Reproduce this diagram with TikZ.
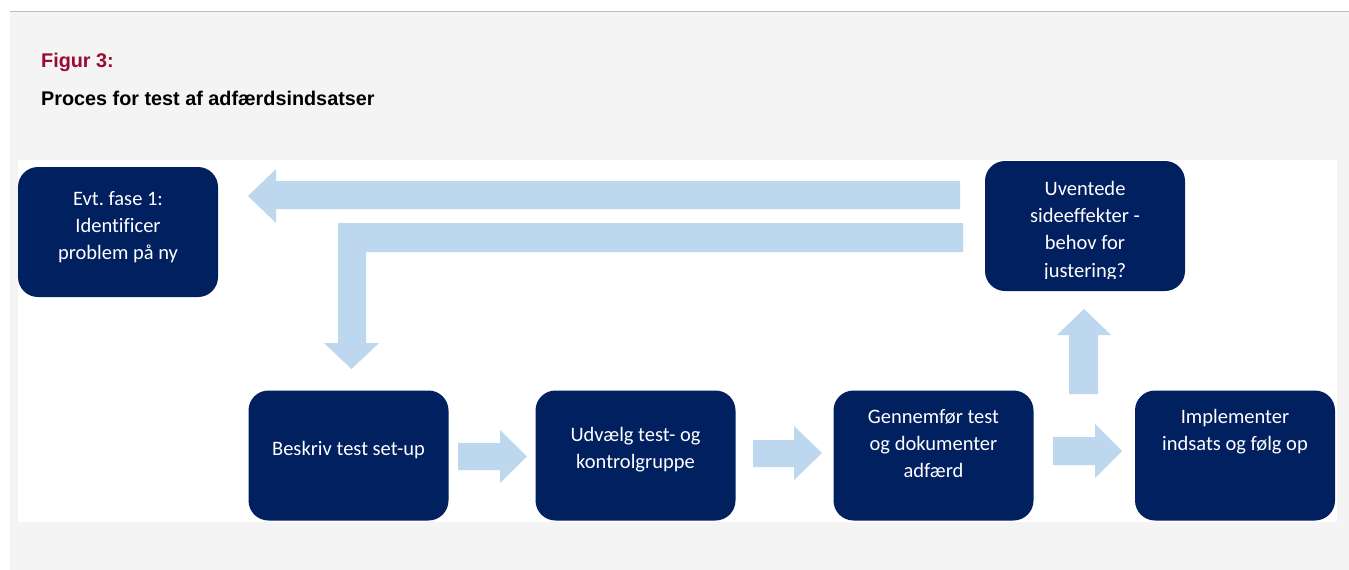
\documentclass[tikz,border=0pt]{standalone}
\usepackage{fontspec}
\setmainfont{Carlito}[Ligatures=NoCommon]
\newfontfamily\titlefont{Liberation Sans}
\frenchspacing
\definecolor{navy}{HTML}{002060}
\definecolor{lblue}{HTML}{BDD7EE}
\definecolor{bggrey}{HTML}{F4F4F4}
\definecolor{linegrey}{HTML}{BEBEBE}
\definecolor{figred}{HTML}{9B0A32}
\tikzset{
  box/.style={fill=navy, rounded corners=20pt, minimum width=200pt, minimum height=130pt, inner sep=0pt},
  txt/.style={text=white, inner sep=0pt, anchor=base, font=\frenchspacing\fontsize{20.5}{27.4}\selectfont},
  blk/.style={fill=lblue, draw=none},
  ttl/.style={inner sep=0pt, anchor=base west, font=\titlefont\bfseries\fontsize{19.8}{24}\selectfont}
}
\newcommand{\ml}[1]{\begin{tabular}[t]{@{}c@{}}#1\end{tabular}}
\begin{document}
\begin{tikzpicture}[x=1pt,y=-1pt]
\useasboundingbox (0,0) rectangle (1349,570);
\fill[white] (0,0) rectangle (1349,570);
\fill[bggrey] (10,11) rectangle (1349,570);
\draw[linegrey, line width=1pt] (10,11) -- (1349,11);
\fill[white] (18,160) rectangle (1337,522);

\node[ttl, text=figred] (fig) at (41,67.5) {Figur 3:};
\node[ttl, text=black] (ttl) at (41,105) {Proces for test af adfærdsindsatser};

% boxes
\node[box] (A) at (118,232) {};
\node[box] (U) at (1085,226) {};
\node[box] (B) at (348.5,455.5) {};
\node[box] (C) at (635.5,455.5) {};
\node[box] (D) at (933.5,455.5) {};
\node[box] (E) at (1235,455.5) {};

% texts
\node[txt] (tA) at (118,205) {\ml{Evt.\ fase 1:\\Identificer\\problem på ny}};
\begin{scope}
\clip (985,161) rectangle (1185,278);
\node[txt] (tU) at (1085,195) {\ml{Uventede\\sideeffekter -\\behov for\\justering?}};
\end{scope}
\node[txt] (tB) at (348.5,455) {\ml{Beskriv test set-up}};
\node[txt] (tC) at (635.5,441) {\ml{Udvælg test- og\\kontrolgruppe}};
\node[txt] (tD) at (933.5,423) {\ml{Gennemfør test\\og dokumenter\\adfærd}};
\node[txt] (tE) at (1235,423) {\ml{Implementer\\indsats og følg op}};

% block arrows
% B -> C
\fill[blk] (458,443) -- (500,443) -- (500,430) -- (527,456.5) -- (500,483) -- (500,470) -- (458,470) -- cycle;
% C -> D
\fill[blk] (753,440) -- (794,440) -- (794,426) -- (822,453) -- (794,480) -- (794,467) -- (753,467) -- cycle;
% D -> E
\fill[blk] (1053,437) -- (1095,437) -- (1095,424) -- (1122,451) -- (1095,478) -- (1095,465) -- (1053,465) -- cycle;
% up arrow towards U
\fill[blk] (1069,394) -- (1069,335) -- (1057,335) -- (1084,309) -- (1111,335) -- (1098,335) -- (1098,394) -- cycle;
% top arrow towards A
\fill[blk] (960,181) -- (276,181) -- (276,169) -- (248,196) -- (276,223) -- (276,209) -- (960,209) -- cycle;
% L-shaped arrow towards B
\fill[blk] (963,223) -- (338,223) -- (338,343) -- (324,343) -- (351.5,369) -- (379,343) -- (366,343) -- (366,252) -- (963,252) -- cycle;
\end{tikzpicture}
\end{document}
